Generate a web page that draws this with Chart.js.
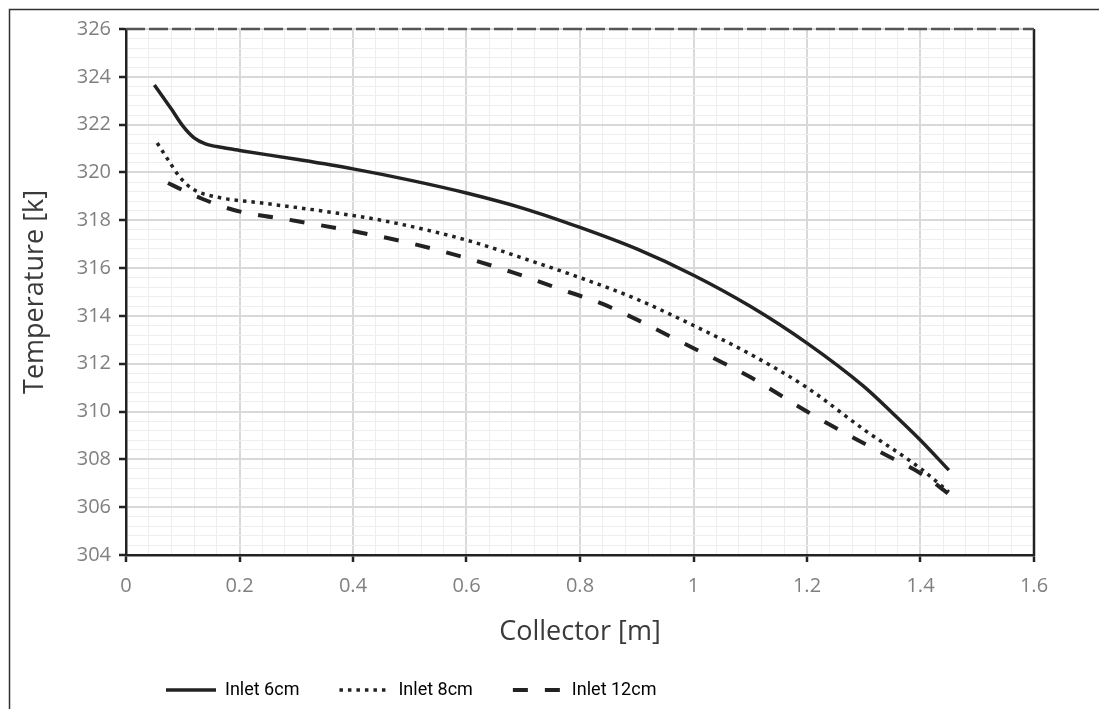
<!DOCTYPE html>
<html>
<head>
<meta charset="utf-8">
<script src="https://cdn.jsdelivr.net/npm/chart.js@4/dist/chart.umd.min.js"></script>
<style>
  html, body { margin: 0; padding: 0; background: #fff; }
  #wrap { width: 1099px; height: 709px; }
</style>
</head>
<body>
<div id="wrap"><canvas id="temp"></canvas></div>
<script>
// collector position [m] and temperature [k]
const x6  = [0.05, 0.08, 0.1, 0.12, 0.14, 0.17, 0.2, 0.3, 0.4, 0.5, 0.6, 0.7, 0.8, 0.9, 1.0, 1.1, 1.2, 1.3, 1.35, 1.4, 1.45];
const t6  = [323.66, 322.65, 321.95, 321.45, 321.2, 321.04, 320.92, 320.55, 320.15, 319.68, 319.14, 318.5, 317.7, 316.8, 315.7, 314.4, 312.86, 311.05, 309.95, 308.8, 307.55];

const x8  = [0.055, 0.075, 0.095, 0.118, 0.16, 0.24, 0.36, 0.45, 0.6, 0.72, 0.8, 0.9, 1.0, 1.1, 1.2, 1.3, 1.4, 1.45];
const t8  = [321.23, 320.5, 319.8, 319.3, 318.97, 318.72, 318.34, 318.0, 317.17, 316.25, 315.6, 314.7, 313.6, 312.4, 311.0, 309.25, 307.62, 306.63];

const x12 = [0.074, 0.1, 0.134, 0.19, 0.3, 0.41, 0.5, 0.6, 0.68, 0.78, 0.84, 1.0, 1.1, 1.2, 1.29, 1.346, 1.4, 1.45];
const t12 = [319.56, 319.26, 318.9, 318.43, 317.97, 317.5, 317.05, 316.42, 315.83, 315.0, 314.5, 312.65, 311.44, 310.0, 308.8, 308.1, 307.42, 306.55];

const seriesNames = ['Inlet 6cm', 'Inlet 8cm', 'Inlet 12cm'];

// axis range and tick steps
const xMin = 0, xMax = 1.6, xMajor = 0.2, xMinor = 0.04;
const yMin = 304, yMax = 326, yMajor = 2, yMinor = 0.4;

const pts = (xs, ys) => xs.map((x, i) => ({x: x, y: ys[i]}));
const isMajor = (v, step) => Math.abs(v / step - Math.round(v / step)) < 1e-6;

const ink = '#222';
const gridMajor = '#d9d9d9';
const gridMinor = '#eeeeee';
const tickFont = {family: "'Open Sans', sans-serif", size: 20};
const titleFont = {family: "'Open Sans', sans-serif", size: 27};

const frame = {
  id: 'frame',
  beforeDraw(chart) {
    const ctx = chart.ctx;
    ctx.save();
    ctx.strokeStyle = '#333';
    ctx.lineWidth = 1.5;
    ctx.beginPath();
    ctx.moveTo(1099, 9.5);
    ctx.lineTo(9.5, 9.5);
    ctx.lineTo(9.5, 709);
    ctx.stroke();
    ctx.restore();
  },
  afterDatasetsDraw(chart) {
    const {ctx, chartArea: a} = chart;
    ctx.save();
    ctx.lineWidth = 2.5;
    ctx.strokeStyle = ink;
    ctx.beginPath();
    ctx.moveTo(a.right, a.top);
    ctx.lineTo(a.right, a.bottom + 1);
    ctx.stroke();
    ctx.strokeStyle = '#555';
    ctx.setLineDash([19, 4]);
    ctx.beginPath();
    ctx.moveTo(a.left, a.top);
    ctx.lineTo(a.right, a.top);
    ctx.stroke();
    ctx.restore();
  }
};

const lineStyle = [
  {borderWidth: 3.5, borderDash: []},
  {borderWidth: 3.5, borderDash: [3.5, 5]},
  {borderWidth: 4, borderDash: [15, 17]}
];

const data = {
  datasets: [pts(x6, t6), pts(x8, t8), pts(x12, t12)].map((d, i) => ({
    label: seriesNames[i],
    data: d,
    borderColor: ink,
    backgroundColor: ink,
    borderWidth: lineStyle[i].borderWidth,
    borderDash: lineStyle[i].borderDash,
    borderCapStyle: 'butt',
    pointRadius: 0,
    pointHoverRadius: 0,
    cubicInterpolationMode: 'monotone',
    fill: false
  }))
};

new Chart(document.getElementById('temp'), {
  type: 'line',
  data: data,
  plugins: [frame],
  options: {
    responsive: true,
    maintainAspectRatio: false,
    animation: false,
    layout: {padding: {left: 0, right: 65, top: 29, bottom: 0}},
    scales: {
      x: {
        type: 'linear',
        min: xMin,
        max: xMax,
        afterFit: s => { s.height = 86; },
        border: {color: ink, width: 2.5},
        grid: {
          color: c => isMajor(c.tick.value, xMajor) ? gridMajor : gridMinor,
          lineWidth: c => isMajor(c.tick.value, xMajor) ? 2 : 1,
          tickColor: c => isMajor(c.tick.value, xMajor) ? ink : 'rgba(0,0,0,0)',
          tickWidth: 2.5,
          tickLength: 7
        },
        ticks: {
          stepSize: xMinor,
          autoSkip: false,
          maxRotation: 0,
          padding: 12,
          color: '#808080',
          font: tickFont,
          callback: v => isMajor(v, xMajor) ? String(Math.round(v * 10) / 10) : ''
        },
        title: {
          display: true,
          text: 'Collector [m]',
          color: '#3a3a3a',
          font: titleFont,
          padding: {top: 0, bottom: -8}
        }
      },
      y: {
        min: yMin,
        max: yMax,
        afterFit: s => { s.width = 126; },
        border: {color: ink, width: 2.5},
        grid: {
          color: c => isMajor(c.tick.value, yMajor) ? gridMajor : gridMinor,
          lineWidth: c => isMajor(c.tick.value, yMajor) ? 2 : 1,
          tickColor: c => isMajor(c.tick.value, yMajor) ? ink : 'rgba(0,0,0,0)',
          tickWidth: 2.5,
          tickLength: 7
        },
        ticks: {
          stepSize: yMinor,
          autoSkip: false,
          padding: 8,
          color: '#808080',
          font: tickFont,
          callback: v => isMajor(v, yMajor) ? String(Math.round(v)) : ''
        },
        title: {
          display: true,
          text: 'Temperature [k]',
          color: '#3a3a3a',
          font: titleFont,
          padding: {top: 19, bottom: 0}
        }
      }
    },
    plugins: {
      tooltip: {enabled: false},
      legend: {
        position: 'bottom',
        align: 'start',
        fullSize: false,
        labels: {
          usePointStyle: true,
          pointStyleWidth: 50,
          boxWidth: 50,
          padding: 40,
          color: '#222',
          font: {family: "Roboto, sans-serif", size: 18},
          generateLabels: chart => chart.data.datasets.map((ds, i) => ({
            text: ds.label,
            fillStyle: ink,
            strokeStyle: ink,
            lineWidth: ds.borderWidth,
            lineDash: ds.borderDash,
            lineCap: 'butt',
            pointStyle: 'line',
            hidden: false,
            datasetIndex: i
          }))
        }
      }
    }
  }
});
</script>
</body>
</html>
